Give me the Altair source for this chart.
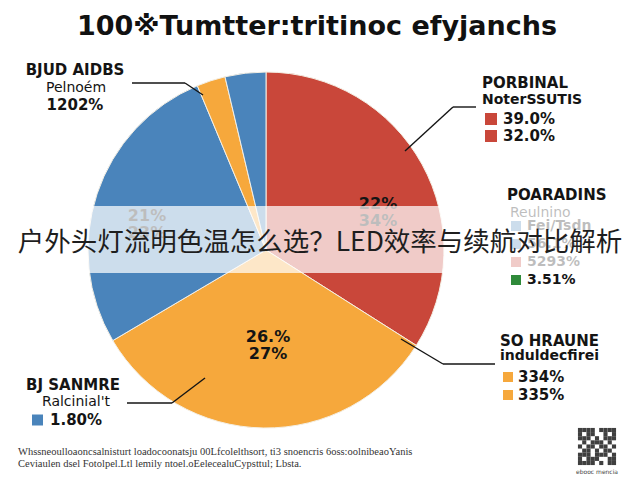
import altair as alt
import pandas as pd

# ---- data -------------------------------------------------------------
slice_names = ["Porbinal", "So Hraune", "Bj Sanmre", "Bjud Aidbs", "Poaradins"]
slice_shares = [34.0, 32.5, 27.2, 2.6, 3.7]

title_text = "100※Tumtter:tritinoc efyjanchs"
overlay_text = "户外头灯流明色温怎么选？LED效率与续航对比解析"

red_labels = ["22%", "34%"]
blue_labels = ["21%", "23%"]
orange_labels = ["26.%", "27%"]

tl_lines = ["BJUD AIDBS", "Pelnoém", "1202%"]
tr_lines = ["PORBINAL", "NoterSSUTIS", "39.0%", "32.0%"]
mr_lines = ["POARADINS", "Reulnino", "Fei/Tsdn", "56.1%", "5293%", "3.51%"]
br_lines = ["SO HRAUNE", "induldecfirei", "334%", "335%"]
bl_lines = ["BJ SANMRE", "Ralcinial't", "1.80%"]

footer_lines = [
    "Whssneoulloaoncsalnisturt loadocoonatsju 00Lfcolelthsort, ti3 snoencris 6oss:oolnibeaoYanis",
    "Ceviaulen dsel Fotolpel.Ltl lemily ntoel.oEelecealuCypsttul; Lbsta.",
]
qr_caption = "ebooc mencia"
qr_rows = [
    "111101111",
    "101100101",
    "111010111",
    "010111010",
    "101101101",
    "011010110",
    "111011101",
    "101110011",
    "111101011",
]

# ---- styling ------------------------------------------------------------
RED = "#c9473a"
ORANGE = "#f6a83c"
BLUE = "#4a84bb"
GREEN = "#2f8a3a"
INK = "#141414"
FONT = "DejaVu Sans"
CX, CY, R = 266, 250, 178

one = alt.Data(values=[{"k": 0}])


def txt(s, x, y, size=14, weight="bold", color=INK, align="center", font=FONT):
    return alt.Chart(one).mark_text(
        text=s, fontSize=size, fontWeight=weight, color=color,
        align=align, baseline="middle", font=font,
    ).encode(x=alt.value(x), y=alt.value(y))


def seg(x1, y1, x2, y2):
    return alt.Chart(one).mark_rule(color=INK, strokeWidth=1.4).encode(
        x=alt.value(x1), y=alt.value(y1), x2=alt.value(x2), y2=alt.value(y2)
    )


def swatch(x, y, color, s=12):
    return alt.Chart(one).mark_rect(color=color).encode(
        x=alt.value(x), x2=alt.value(x + s), y=alt.value(y - s / 2), y2=alt.value(y + s / 2)
    )


# ---- pie ----------------------------------------------------------------
pie_df = pd.DataFrame({
    "name": slice_names,
    "share": slice_shares,
    "idx": list(range(len(slice_names))),
})
pie = alt.Chart(pie_df).mark_arc(radius=R, stroke="#f4efe4", strokeWidth=1).encode(
    theta=alt.Theta("share:Q", stack=True),
    color=alt.Color("name:N", scale=alt.Scale(domain=slice_names,
                                              range=[RED, ORANGE, BLUE, ORANGE, BLUE]),
                    legend=None),
    order=alt.Order("idx:Q"),
    x=alt.value(CX), y=alt.value(CY),
)

layers = [pie]

# in-slice value labels
layers += [txt(red_labels[0], 378, 204, 16), txt(red_labels[1], 378, 221, 16)]
layers += [txt(blue_labels[0], 147, 216, 16), txt(blue_labels[1], 147, 233, 16)]
layers += [txt(orange_labels[0], 268, 337, 16), txt(orange_labels[1], 268, 354, 16)]

# leader lines
layers += [seg(132, 83, 185, 83), seg(185, 83, 203, 95)]
layers += [seg(405, 151, 453, 107), seg(453, 107, 476, 107)]
layers += [seg(401, 339, 443, 364), seg(443, 364, 495, 364)]
layers += [seg(127, 403, 172, 403), seg(172, 403, 205, 378)]

# top-left annotation
layers += [txt(tl_lines[0], 75, 70, 15), txt(tl_lines[1], 76, 88, 14, "normal"),
           txt(tl_lines[2], 75, 105, 15)]

# top-right annotation
layers += [txt(tr_lines[0], 482, 83, 15, align="left"),
           txt(tr_lines[1], 482, 100, 14, align="left"),
           swatch(485, 119, RED), txt(tr_lines[2], 503, 119, 15, align="left"),
           swatch(485, 136, RED), txt(tr_lines[3], 503, 136, 15, align="left")]

# middle-right annotation
layers += [txt(mr_lines[0], 507, 195, 15, align="left"),
           txt(mr_lines[1], 510, 213, 14, "normal", align="left"),
           swatch(511, 226, BLUE, 10), txt(mr_lines[2], 527, 226, 14, align="left"),
           swatch(511, 244, BLUE, 10), txt(mr_lines[3], 527, 244, 14, align="left"),
           swatch(511, 262, RED, 10), txt(mr_lines[4], 527, 262, 14, align="left"),
           swatch(511, 280, GREEN, 10), txt(mr_lines[5], 527, 280, 14, align="left")]

# bottom-right annotation
layers += [txt(br_lines[0], 500, 341, 15, align="left"),
           txt(br_lines[1], 500, 356, 14, align="left"),
           swatch(503, 377, ORANGE, 10), txt(br_lines[2], 518, 377, 15, align="left"),
           swatch(503, 395, ORANGE, 10), txt(br_lines[3], 518, 395, 15, align="left")]

# bottom-left annotation
layers += [txt(bl_lines[0], 73, 385, 15), txt(bl_lines[1], 76, 402, 14, "normal"),
           swatch(32, 420, BLUE, 11), txt(bl_lines[2], 50, 420, 15, align="left")]

# chart title
layers += [txt(title_text, 317, 27, 27, "bold", "#111111")]

# footer notes
layers += [txt(footer_lines[0], 18, 452, 10.5, "normal", "#333333", "left", "Liberation Serif"),
           txt(footer_lines[1], 18, 464, 10.5, "normal", "#333333", "left", "Liberation Serif")]

# QR-style block
qr_cells = [{"c": c, "r": r} for r, row in enumerate(qr_rows) for c, v in enumerate(row) if v == "1"]
qr = alt.Chart(alt.Data(values=qr_cells)).mark_square(size=17, color="#2a2a2a", opacity=0.9).encode(
    x=alt.X("c:Q", scale=alt.Scale(domain=[0, 8], range=[580, 614]), axis=None),
    y=alt.Y("r:Q", scale=alt.Scale(domain=[0, 8], range=[430, 463]), axis=None),
)
layers += [qr, txt(qr_caption, 597, 472, 6, "normal", "#444444")]

# translucent banner with the overlay headline
band = alt.Chart(one).mark_rect(color="white", opacity=0.72).encode(
    x=alt.value(0), x2=alt.value(640), y=alt.value(206), y2=alt.value(273)
)
layers += [band, txt(overlay_text, 320, 243, 26.5, "normal", "#1e1e1e", font="Noto Sans CJK SC")]

chart = alt.layer(*layers).properties(
    width=640, height=480, padding=0, autosize="none", background="white"
).configure_view(stroke=None)

chart.save("out.html", embed_options={"renderer": "svg", "actions": False})
